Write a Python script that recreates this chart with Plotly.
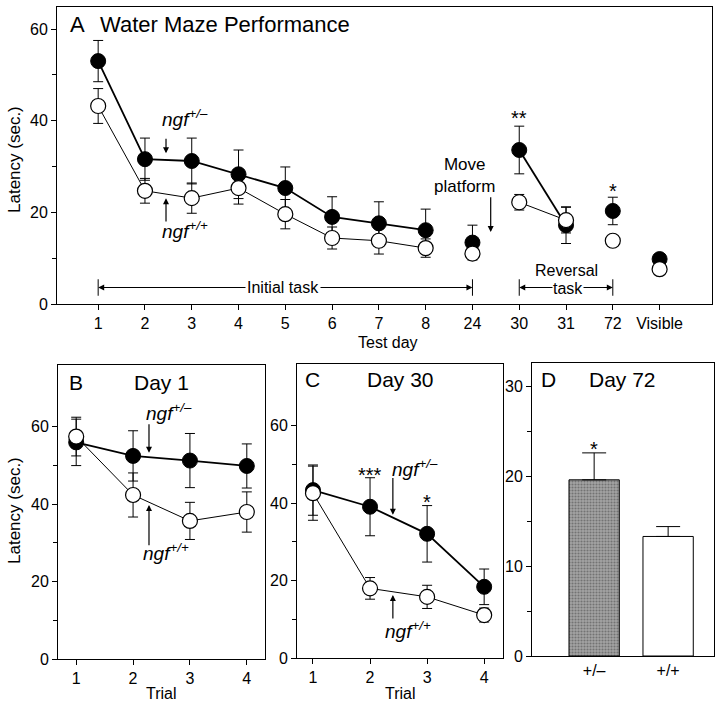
import plotly.graph_objects as go

# ---------------- data ----------------
days = ["1", "2", "3", "4", "5", "6", "7", "8", "24", "30", "31", "72", "Visible"]
a_het = [53.0, 31.6, 31.2, 28.3, 25.3, 19.0, 17.6, 16.1, 13.4, 33.6, 17.2, 20.3, 9.8]
a_het_err = [4.5, 4.6, 5.0, 5.3, 4.6, 4.4, 4.7, 4.6, 3.8, 5.2, 4.0, 3.0, 0.8]
a_wt = [43.2, 24.7, 23.1, 25.3, 19.6, 14.4, 13.8, 12.2, 11.0, 22.2, 18.3, 13.8, 7.6]
a_wt_err = [3.8, 2.7, 3.3, 3.5, 3.2, 2.4, 2.9, 2.0, 1.0, 1.7, 2.8, 1.1, 0.8]
a_segments = [(0, 8), (9, 11)]  # connected index ranges

trials = [1, 2, 3, 4]
b_het = [56.0, 52.5, 51.3, 49.9]
b_het_err = [6.0, 6.5, 7.0, 5.7]
b_wt = [57.5, 42.4, 35.7, 38.0]
b_wt_err = [5.0, 5.7, 4.8, 5.2]

c_het = [43.4, 39.1, 32.1, 18.4]
c_het_err = [6.5, 7.5, 7.3, 4.6]
c_wt = [42.6, 18.0, 15.8, 11.1]
c_wt_err = [7.0, 2.8, 3.0, 1.8]

genotypes = ["+/–", "+/+"]
d_mean = [19.6, 13.3]
d_err = [3.0, 1.1]

# ---------------- layout helpers ----------------
W, H = 720, 703
FONT = "Liberation Sans, Arial, Helvetica, sans-serif"


def dx(a, b):
    return [a / W, b / W]


def dy(top, bottom):
    return [1 - bottom / H, 1 - top / H]


def px(x):
    return x / W


def py(y):
    return 1 - y / H


fig = go.Figure()

pos = list(range(len(days)))


def seg_line(xs, ys, segs):
    lx, ly = [], []
    for s, e in segs:
        lx += xs[s:e] + [None]
        ly += ys[s:e] + [None]
    return lx, ly


def add_series(xs, het, het_err, wt, wt_err, xa, ya, segs=None):
    if segs is None:
        segs = [(0, len(xs))]
    lx, ly = seg_line(xs, het, segs)
    fig.add_trace(go.Scatter(x=lx, y=ly, mode="lines", line=dict(color="black", width=1.8),
                             xaxis=xa, yaxis=ya, showlegend=False, hoverinfo="skip"))
    lx, ly = seg_line(xs, wt, segs)
    fig.add_trace(go.Scatter(x=lx, y=ly, mode="lines", line=dict(color="black", width=1),
                             xaxis=xa, yaxis=ya, showlegend=False, hoverinfo="skip"))
    fig.add_trace(go.Scatter(x=xs, y=het, mode="markers",
                             marker=dict(color="black", size=15, line=dict(color="black", width=1)),
                             error_y=dict(type="data", array=het_err, color="black", thickness=1, width=5),
                             xaxis=xa, yaxis=ya, showlegend=False))
    fig.add_trace(go.Scatter(x=xs, y=wt, mode="markers",
                             marker=dict(color="white", size=15, line=dict(color="black", width=1.2)),
                             error_y=dict(type="data", array=wt_err, color="black", thickness=1, width=5),
                             xaxis=xa, yaxis=ya, showlegend=False))


add_series(pos, a_het, a_het_err, a_wt, a_wt_err, "x", "y", a_segments)
add_series(trials, b_het, b_het_err, b_wt, b_wt_err, "x2", "y2")
add_series(trials, c_het, c_het_err, c_wt, c_wt_err, "x3", "y3")

fig.add_trace(go.Bar(x=[0, 1], y=d_mean, width=0.68,
                     marker=dict(color=["#a3a3a3", "white"], line=dict(color="black", width=1),
                                 pattern=dict(shape=[".", ""], fgcolor="#6a6a6a", fillmode="overlay",
                                              size=3, solidity=0.4)),
                     error_y=dict(type="data", symmetric=False, array=d_err, arrayminus=[0, 0],
                                  color="black", thickness=1, width=12),
                     xaxis="x4", yaxis="y4", showlegend=False))

axis_common = dict(showline=True, linecolor="black", linewidth=1, mirror=True, ticks="outside",
                   tickcolor="black", ticklen=5, showgrid=False, zeroline=False, automargin=False,
                   tickfont=dict(family=FONT, size=16, color="black"))

fig.update_layout(
    template="none",
    width=W, height=H, margin=dict(l=0, r=0, t=0, b=0, autoexpand=False),
    paper_bgcolor="white", plot_bgcolor="white",
    font=dict(family=FONT, color="black"),
    xaxis=dict(axis_common, domain=dx(57, 712), anchor="y", range=[-0.88, 13.12],
               tickvals=pos, ticktext=days),
    yaxis=dict(axis_common, domain=dy(7, 304), anchor="x", range=[0, 64.8], tickvals=[0, 20, 40, 60],
               minor=dict(tickvals=[10, 30, 50], ticks="outside", ticklen=4, tickcolor="black")),
    xaxis2=dict(axis_common, domain=dx(58, 265), anchor="y2", range=[0.68, 4.32], tickvals=trials),
    yaxis2=dict(axis_common, domain=dy(365, 659), anchor="x2", range=[0, 76], tickvals=[0, 20, 40, 60],
                minor=dict(tickvals=[10, 30, 50], ticks="outside", ticklen=4, tickcolor="black")),
    xaxis3=dict(axis_common, domain=dx(297, 503), anchor="y3", range=[0.72, 4.33], tickvals=trials),
    yaxis3=dict(axis_common, domain=dy(364, 658), anchor="x3", range=[0, 76], tickvals=[0, 20, 40, 60],
                minor=dict(tickvals=[10, 30, 50], ticks="outside", ticklen=4, tickcolor="black")),
    xaxis4=dict(axis_common, domain=dx(532, 714), anchor="y4", range=[-0.84, 1.62],
                tickvals=[0, 1], ticktext=genotypes, ticks=""),
    yaxis4=dict(axis_common, domain=dy(363, 656), anchor="x4", range=[0, 32.6], tickvals=[0, 10, 20, 30],
                minor=dict(tickvals=[5, 15, 25], ticks="outside", ticklen=4, tickcolor="black")),
)

ann = []


def txt(text, x, y, xref, yref, size, **kw):
    d = dict(text=text, x=x, y=y, xref=xref, yref=yref, showarrow=False,
             xanchor="center", yanchor="middle",
             font=dict(family=FONT, size=size, color="black"))
    d.update(kw)
    ann.append(d)


def arrow(x, y, ax, ay, xr, yr):
    ann.append(dict(text="", x=x, y=y, ax=ax, ay=ay, xref=xr, yref=yr, axref=xr, ayref=yr,
                    showarrow=True, arrowhead=2, arrowsize=1, arrowwidth=1.2, arrowcolor="black",
                    standoff=0, startstandoff=0))


NGF_HET = "<i>ngf<sup>+/–</sup></i>"
NGF_WT = "<i>ngf<sup>+/+</sup></i>"

# Panel titles / axis titles (paper coords)
txt("A", px(68), py(25), "paper", "paper", 22, xanchor="left")
txt("Water Maze Performance", px(98), py(25), "paper", "paper", 22, xanchor="left")
txt("Latency (sec.)", px(14), py(160), "paper", "paper", 17, textangle=-90)
txt("Test day", px(388), py(342), "paper", "paper", 16)
txt("B", px(67), py(382), "paper", "paper", 21, xanchor="left")
txt("Day 1", px(161), py(382), "paper", "paper", 21)
txt("Latency (sec.)", px(14), py(511), "paper", "paper", 17, textangle=-90)
txt("Trial", px(161), py(693), "paper", "paper", 16)
txt("C", px(303), py(379), "paper", "paper", 21, xanchor="left")
txt("Day 30", px(400), py(379), "paper", "paper", 21)
txt("Trial", px(400), py(693), "paper", "paper", 16)
txt("D", px(539), py(379), "paper", "paper", 21, xanchor="left")
txt("Day 72", px(622), py(379), "paper", "paper", 21)

# Panel A annotations
txt(NGF_HET, 1.86, 40.6, "x", "y", 19)
arrow(1.45, 32.9, 1.45, 36.4, "x", "y")
txt(NGF_WT, 1.86, 16.1, "x", "y", 19)
arrow(1.45, 23.1, 1.45, 17.7, "x", "y")
txt("Move<br>platform", 7.84, 28.0, "x", "y", 17)
arrow(8.39, 15.7, 8.39, 23.6, "x", "y")
txt("**", 9, 40.5, "x", "y", 20)
txt("*", 11, 24.6, "x", "y", 20)
# Initial task bracket
arrow(0.0, 3.6, 3.95, 3.6, "x", "y")
arrow(8.0, 3.6, 3.95, 3.6, "x", "y")
txt("Initial task", 3.95, 3.6, "x", "y", 16, bgcolor="white", borderpad=1)
# Reversal bracket
arrow(9.0, 3.6, 10.04, 3.6, "x", "y")
arrow(11.0, 3.6, 10.04, 3.6, "x", "y")
txt("task", 10.04, 3.4, "x", "y", 16, bgcolor="white", borderpad=0)
txt("Reversal", 10.0, 7.3, "x", "y", 16)

# Panel B annotations
txt(NGF_HET, 2.63, 63.9, "x2", "y2", 19)
arrow(2.28, 53.3, 2.28, 61.1, "x2", "y2")
txt(NGF_WT, 2.58, 27.7, "x2", "y2", 19)
arrow(2.28, 39.8, 2.28, 29.0, "x2", "y2")

# Panel C annotations
txt("***", 2.0, 47.4, "x3", "y3", 20)
txt(NGF_HET, 2.79, 49.2, "x3", "y3", 19)
arrow(2.40, 37.0, 2.40, 46.9, "x3", "y3")
txt("*", 3.0, 40.4, "x3", "y3", 20)
txt(NGF_WT, 2.67, 7.3, "x3", "y3", 19)
arrow(2.40, 16.3, 2.40, 9.8, "x3", "y3")

# Panel D annotation
txt("*", 0, 23.0, "x4", "y4", 20)

fig.update_layout(annotations=ann)

# bracket end bars in panel A
shapes = []
for xv in [0, 8, 9, 11]:
    shapes.append(dict(type="line", xref="x", yref="y", x0=xv, x1=xv, y0=1.8, y1=5.4,
                       line=dict(color="black", width=1)))
fig.update_layout(shapes=shapes)

fig.write_html(
    "out.html",
    config={"displayModeBar": False},
    post_script="document.body.style.margin='0px';document.body.style.padding='0px';"
                "document.documentElement.style.overflow='hidden';",
)
